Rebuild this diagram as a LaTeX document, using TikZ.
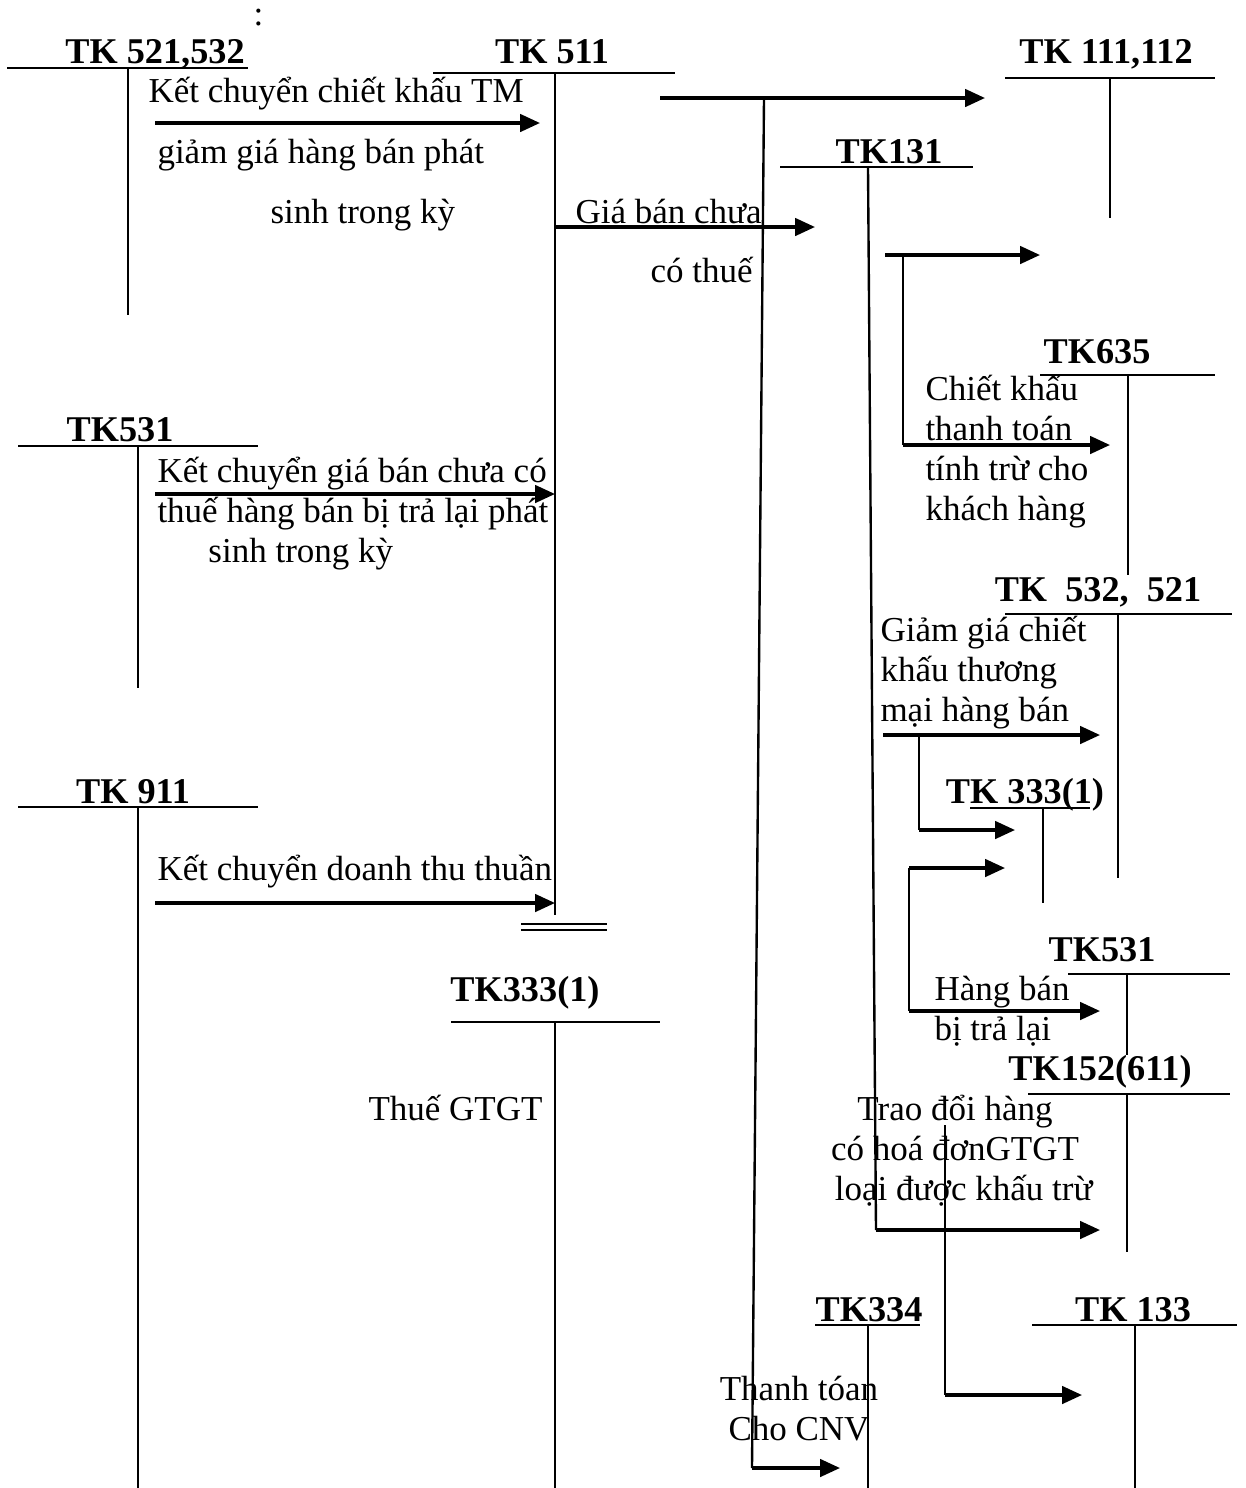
\documentclass[tikz,border=0pt]{standalone}
\usepackage{fontspec}
\setmainfont{Liberation Serif}
\usetikzlibrary{arrows.meta}
\tikzset{
    >={Triangle[length=8pt,width=7pt]}, % filled arrowhead as in the ledger sketch
    acct/.style={line width=0.95pt, draw=black},
    flow/.style={line width=1.3pt, draw=black, ->},
    head/.style={font=\fontsize{14.5}{16}\selectfont\bfseries, anchor=base, inner sep=0pt},
    note/.style={font=\fontsize{14}{16}\selectfont, anchor=base west, inner sep=0pt, align=left}
}
\begin{document}
\begin{tikzpicture}[x=0.4pt, y=-0.4pt]
  \useasboundingbox (0,0) rectangle (1246,1488);

  \node[note] (colon) at (253,25) {:};

  % T-accounts (heading, top bar, stem)
  \node[head] (t521) at (155,63) {TK 521,532};
  \draw[acct] (7,68) -- (248,68) (128,68) -- (128,315);

  \node[head] (t511) at (552,63) {TK 511};
  \draw[acct] (433,73) -- (675,73) (555,73) -- (555,915);

  \node[head] (t111) at (1106,63) {TK 111,112};
  \draw[acct] (1005,78) -- (1215,78) (1110,78) -- (1110,218);

  \node[head] (t131) at (889,163) {TK131};
  \draw[acct] (780,167) -- (973,167);

  \node[head] (t635) at (1097,363) {TK635};
  \draw[acct] (1040,375) -- (1215,375) (1128,375) -- (1128,575);

  \node[head] (t531a) at (120,441) {TK531};
  \draw[acct] (18,446) -- (258,446) (138,446) -- (138,688);

  \node[head] (t532) at (1098,601) {TK\ \ 532,\ \ 521};
  \draw[acct] (1005,614) -- (1232,614) (1118,614) -- (1118,878);

  \node[head] (t3331a) at (1025,803) {TK 333(1)};
  \draw[acct] (970,808) -- (1090,808) (1043,808) -- (1043,903);

  \node[head] (t911) at (133,803) {TK 911};
  \draw[acct] (18,807) -- (258,807) (138,807) -- (138,1488);

  \node[head] (t531b) at (1102,961) {TK531};
  \draw[acct] (1068,974) -- (1230,974) (1127,974) -- (1127,1055);

  \node[head] (t3331b) at (525,1001) {TK333(1)};
  \draw[acct] (451,1022) -- (660,1022) (555,1022) -- (555,1488);

  \node[head] (t152) at (1100,1080) {TK152(611)};
  \draw[acct] (1028,1094) -- (1230,1094) (1127,1094) -- (1127,1252);

  \node[head] (t334) at (869,1321) {TK334};
  \draw[acct] (815,1325) -- (920,1325) (868,1325) -- (868,1488);

  \node[head] (t133) at (1133,1321) {TK 133};
  \draw[acct] (1032,1325) -- (1237,1325) (1135,1325) -- (1135,1488);

  % closing double rule under TK 511
  \draw[line width=1pt] (521,924) -- (607,924) (521,930) -- (607,930);

  % entry points
  \coordinate (p1s) at (155,123);  \coordinate (p1e) at (540,123);
  \coordinate (p2s) at (660,98);   \coordinate (p2k) at (764,98);   \coordinate (p2e) at (985,98);
  \coordinate (p2d) at (752,1468); \coordinate (p2f) at (840,1468);
  \coordinate (p3s) at (555,227);  \coordinate (p3e) at (815,227);
  \coordinate (p4s) at (885,255);  \coordinate (p4k) at (903,255);  \coordinate (p4e) at (1040,255);
  \coordinate (p4d) at (903,445);  \coordinate (p4f) at (1110,445);
  \coordinate (p5s) at (868,167);  \coordinate (p5d) at (876,1230); \coordinate (p5e) at (1100,1230);
  \coordinate (p6s) at (155,494);  \coordinate (p6e) at (555,494);
  \coordinate (p7s) at (883,735);  \coordinate (p7k) at (919,735);  \coordinate (p7e) at (1100,735);
  \coordinate (p7d) at (919,830);  \coordinate (p7f) at (1015,830);
  \coordinate (p8u) at (909,868);  \coordinate (p8e) at (1005,868);
  \coordinate (p8d) at (909,1011); \coordinate (p8f) at (1100,1011);
  \coordinate (p9s) at (155,903);  \coordinate (p9e) at (555,903);
  \coordinate (p10s) at (945,1125); \coordinate (p10d) at (945,1395); \coordinate (p10e) at (1082,1395);

  % entries
  \draw[flow] (p1s) -- (p1e);
  \draw[flow] (p2s) -- (p2e);
  \draw[acct] (p2k) -- (p2d);
  \draw[flow] (p2d) -- (p2f);
  \draw[flow] (p3s) -- (p3e);
  \draw[flow] (p4s) -- (p4e);
  \draw[acct] (p4k) -- (p4d);
  \draw[flow] (p4d) -- (p4f);
  \draw[acct] (p5s) -- (p5d);
  \draw[flow] (p5d) -- (p5e);
  \draw[flow] (p6s) -- (p6e);
  \draw[flow] (p7s) -- (p7e);
  \draw[acct] (p7k) -- (p7d);
  \draw[flow] (p7d) -- (p7f);
  \draw[flow] (p8u) -- (p8e);
  \draw[acct] (p8u) -- (p8d);
  \draw[flow] (p8d) -- (p8f);
  \draw[flow] (p9s) -- (p9e);
  \draw[acct] (p10s) -- (p10d);
  \draw[flow] (p10d) -- (p10e);

  % labels (multi-line: base is the last line)
  \node[note] (l1a) at (148,102) {Kết chuyển chiết khấu TM};
  \node[note] (l1b) at (157,163) {giảm giá hàng bán phát};
  \node[note] (l1c) at (270,223) {sinh trong kỳ};
  \node[note] (l3a) at (575,223) {Giá bán chưa};
  \node[note] (l3b) at (650,282) {có thuế};
  \node[note] (l4) at (925,520) {Chiết khấu\\thanh toán\\tính trừ cho\\khách hàng};
  \node[note] (l6) at (157,562) {Kết chuyển giá bán chưa có\\thuế hàng bán bị trả lại phát\\\hspace*{51\pgflinewidth}sinh trong kỳ};
  \node[note] (l7) at (880,721) {Giảm giá chiết\\khấu thương\\mại hàng bán};
  \node[note] (l9) at (157,880) {Kết chuyển doanh thu thuần};
  \node[note] (l8) at (934,1040) {Hàng bán\\bị trả lại};
  \node[note] (l11) at (368,1120) {Thuế GTGT};
  \node[note, align=center, anchor=base] (l10) at (955,1200) {Trao đổi hàng\\có hoá đơnGTGT\\\ \ loại được khấu trừ};
  \node[note, align=center, anchor=base] (l2) at (799,1440) {Thanh tóan\\Cho CNV};
\end{tikzpicture}
\end{document}
